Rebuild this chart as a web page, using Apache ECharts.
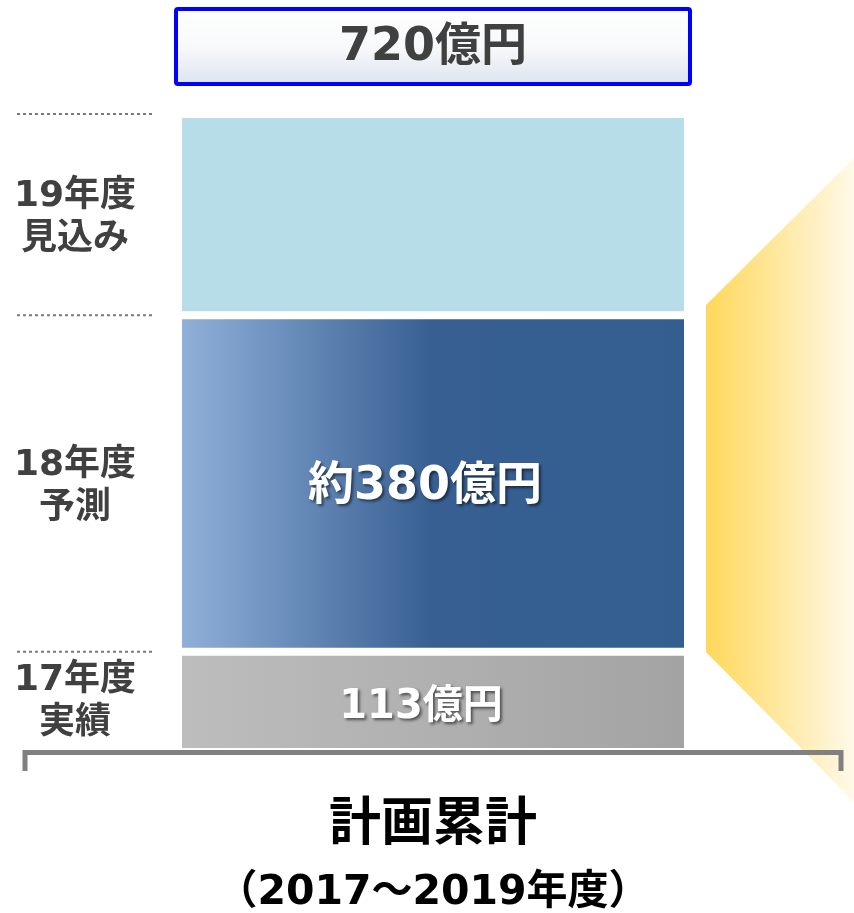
<!doctype html>
<html>
<head>
<meta charset="utf-8">
<title>計画累計</title>
<style>
  html, body { margin: 0; padding: 0; background: #fff; }
  #chart { width: 854px; height: 913px; }
</style>
</head>
<body>
<div id="chart"></div>
<script src="https://cdn.jsdelivr.net/npm/echarts@6/dist/echarts.min.js"></script>
<script>
  // values (億円), bottom to top
  var segNames = ['17年度\n実績', '18年度\n予測', '19年度\n見込み'];
  var segValues = [113, 380, 227];
  var segLabels = ['113億円', '約380億円', ''];
  var totalLabel = '720億円';
  var xTitle = '計画累計';
  var xSub = '（2017〜2019年度）';

  var FONT = "'DejaVu Sans', 'Noto Sans CJK JP', sans-serif";
  var total = segValues.reduce(function (a, b) { return a + b; }, 0);

  var fills = [
    { type: 'linear', x: 0, y: 0, x2: 1, y2: 0,
      colorStops: [{ offset: 0, color: '#bdbdbd' }, { offset: 1, color: '#a3a3a3' }] },
    { type: 'linear', x: 0, y: 0, x2: 1, y2: 0,
      colorStops: [{ offset: 0, color: '#91b1da' }, { offset: 0.5, color: '#375f92' }, { offset: 1, color: '#345e90' }] },
    '#b7dde8'
  ];
  var labelSize = [40, 46, 40];
  var labelOffset = [[-12, 6], [-8, 4], [0, 0]];

  var series = segValues.map(function (v, i) {
    return {
      name: segNames[i],
      type: 'bar',
      stack: 'total',
      barWidth: '100%',
      data: [v],
      z: 3,
      itemStyle: { color: fills[i], borderColor: '#fff', borderWidth: 4 },
      label: {
        show: segLabels[i] !== '',
        position: 'inside',
        formatter: segLabels[i],
        offset: labelOffset[i],
        color: '#fff',
        fontFamily: FONT,
        fontWeight: 'bold',
        fontSize: labelSize[i],
        textShadowColor: 'rgba(0,0,0,0.55)',
        textShadowBlur: 3,
        textShadowOffsetX: 2,
        textShadowOffsetY: 2
      }
    };
  });

  var myChart = echarts.init(document.getElementById('chart'));
  myChart.setOption({
    animation: false,
    grid: { left: 178, right: 166, top: 114, bottom: 161 },
    xAxis: { type: 'category', data: [''], show: false },
    yAxis: { type: 'value', min: 0, max: total, show: false },
    series: series
  });

  // boundaries between the segments, in pixels
  var bounds = [0];
  var acc = 0;
  segValues.forEach(function (v) { acc += v; bounds.push(acc); });
  var py = bounds.map(function (b) { return myChart.convertToPixel({ yAxisIndex: 0 }, b); });

  var graphic = [];

  // yellow fan on the right
  graphic.push({
    type: 'polygon', z: 1,
    shape: { points: [[706, 305], [854, 158], [854, 802], [706, 652]] },
    style: {
      fill: { type: 'linear', x: 0, y: 0, x2: 1, y2: 0,
        colorStops: [{ offset: 0, color: '#ffd85a' }, { offset: 1, color: '#fff9e8' }] }
    }
  });

  // dotted guides
  for (var i = 1; i < py.length; i++) {
    graphic.push({
      type: 'line', z: 2,
      shape: { x1: 17, y1: py[i], x2: 153, y2: py[i] },
      style: { stroke: '#7a7a7a', lineWidth: 2, lineDash: [3, 3] }
    });
  }

  // segment names on the left
  segNames.forEach(function (n, i) {
    graphic.push({
      type: 'text', z: 2,
      x: 75, y: (py[i] + py[i + 1]) / 2 + (i === 0 ? 0 : 4),
      style: {
        text: n, fill: '#404040', font: 'bold 36px ' + FONT,
        lineHeight: 43, align: 'center', verticalAlign: 'middle'
      }
    });
  });

  // total box on top
  graphic.push({
    type: 'rect', z: 2,
    shape: { x: 176, y: 9, width: 514, height: 75, r: 2 },
    style: {
      fill: { type: 'linear', x: 0, y: 0, x2: 0, y2: 1,
        colorStops: [{ offset: 0, color: '#ffffff' }, { offset: 0.5, color: '#f8f9fb' }, { offset: 1, color: '#dce3ee' }] },
      stroke: '#0000ff', lineWidth: 4
    }
  });
  graphic.push({
    type: 'text', z: 3, x: 433, y: 48,
    style: {
      text: totalLabel, fill: '#404040', font: 'bold 46px ' + FONT,
      align: 'center', verticalAlign: 'middle'
    }
  });

  // bracket under the bar
  graphic.push({
    type: 'polyline', z: 4,
    shape: { points: [[25, 771], [25, 752.5], [841, 752.5], [841, 771]] },
    style: { stroke: '#808080', lineWidth: 5, fill: null }
  });

  // titles below
  graphic.push({
    type: 'text', z: 2, x: 433, y: 826,
    style: { text: xTitle, fill: '#000', font: 'bold 52px ' + FONT, align: 'center', verticalAlign: 'middle' }
  });
  graphic.push({
    type: 'text', z: 2, x: 433, y: 893,
    style: { text: xSub, fill: '#000', font: 'bold 41px ' + FONT, align: 'center', verticalAlign: 'middle' }
  });

  myChart.setOption({ graphic: graphic });
</script>
</body>
</html>
